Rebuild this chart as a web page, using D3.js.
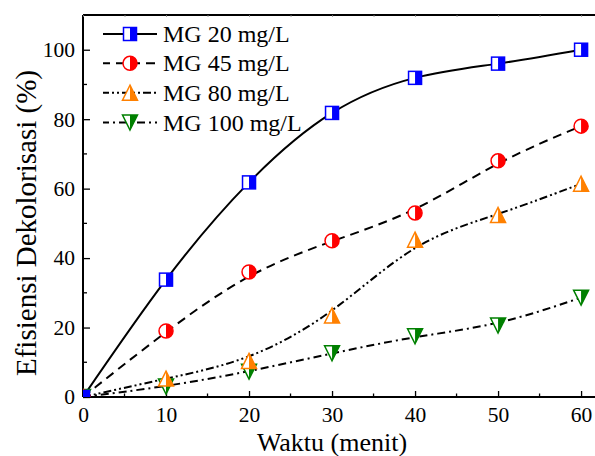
<!DOCTYPE html>
<html>
<head>
<meta charset="utf-8">
<script src="https://cdn.jsdelivr.net/npm/d3@7"></script>
<style>
  html, body { margin: 0; padding: 0; background: #fff; }
  svg { display: block; }
  svg text { font-family: "Liberation Serif", "Times New Roman", "DejaVu Serif", serif; }
</style>
</head>
<body>
<svg id="chart" width="595" height="456"></svg>
<script>
// Decolorisation efficiency of malachite green over contact time
const waktu = [0, 10, 20, 30, 40, 50, 60];
const mg20  = [0, 33.8, 61.8, 81.8, 91.9, 96.0, 100.0];
const mg45  = [0, 19.0, 36.0, 45.0, 53.0, 68.0, 78.0];
const mg80  = [0, 5.3, 10.4, 23.5, 45.3, 52.4, 61.4];
const mg100 = [0, 3.0, 7.3, 12.6, 17.5, 20.6, 28.6];
const seriesNames = ["MG 20 mg/L", "MG 45 mg/L", "MG 80 mg/L", "MG 100 mg/L"];
const xTicks = [0, 10, 20, 30, 40, 50, 60];
const yTicks = [0, 20, 40, 60, 80, 100];

const serif = "Liberation Serif, Times New Roman, DejaVu Serif, serif";
const svg = d3.select("#chart");
const plotLeft = 83, plotRight = 601, plotTop = 15, plotBottom = 397;

const x = d3.scaleLinear().domain([0, 62.4]).range([plotLeft, plotRight]);
const y = d3.scaleLinear().domain([0, 110]).range([plotBottom, plotTop]);

const styles = [
  { color: "#0000ff", shape: "square", dash: null,          curve: d3.curveNatural },
  { color: "#ff0000", shape: "circle", dash: "9,6",         curve: d3.curveBasis },
  { color: "#ff8000", shape: "up",     dash: "8,3,2,3,2,3", curve: d3.curveBasis },
  { color: "#008000", shape: "down",   dash: "8,4,2,4",     curve: d3.curveBasis }
];
const data = [mg20, mg45, mg80, mg100];

svg.append("defs").append("clipPath").attr("id", "plotClip")
  .append("rect").attr("x", plotLeft).attr("y", plotTop)
  .attr("width", plotRight - plotLeft).attr("height", plotBottom - plotTop);

// axes with inward ticks
const minorX = d3.range(5, 61, 10);
const minorY = d3.range(10, 110, 20);

const xAxis = d3.axisBottom(x).tickValues(xTicks).tickSize(-6).tickPadding(10).tickFormat(d3.format("d"));
const gx = svg.append("g").attr("transform", `translate(0,${plotBottom})`).call(xAxis);
gx.selectAll(".tick text").attr("y", 9.5);
gx.append("g").selectAll("line").data(minorX).join("line")
  .attr("x1", d => x(d)).attr("x2", d => x(d)).attr("y1", 0).attr("y2", -3.5)
  .attr("stroke", "#000").attr("stroke-width", 1.3);

const yAxis = d3.axisLeft(y).tickValues(yTicks).tickSize(-7).tickPadding(8).tickFormat(d3.format("d"));
const gy = svg.append("g").attr("transform", `translate(${plotLeft},0)`).call(yAxis);
gy.selectAll(".tick text").attr("x", -8);
gy.append("g").selectAll("line").data(minorY).join("line")
  .attr("x1", 0).attr("x2", 4).attr("y1", d => y(d)).attr("y2", d => y(d))
  .attr("stroke", "#000").attr("stroke-width", 1.3);

// top frame with small ticks
const xTop = d3.axisTop(x).tickValues(xTicks.concat(minorX)).tickSize(-2).tickFormat("");
const gt = svg.append("g").attr("transform", `translate(0,${plotTop})`).call(xTop);

[gx, gy, gt].forEach(g => g.attr("font-family", serif).attr("font-size", 21.5));
[gx, gy].forEach(g => {
  g.selectAll(".tick line").attr("stroke", "#000").attr("stroke-width", 1.3);
  g.selectAll(".tick text").attr("fill", "#000");
});
gt.selectAll(".tick line").attr("stroke", "#888").attr("stroke-width", 0.8);
[gx, gy, gt].forEach(g => g.select(".domain").attr("stroke", "#000").attr("stroke-width", 2));
gx.select(".domain").attr("d", `M${plotLeft},0H${plotRight}`);
gt.select(".domain").attr("d", `M${plotLeft},0H${plotRight}`);
gy.select(".domain").attr("d", `M0,${plotBottom}V${plotTop}`);

// curves
const plot = svg.append("g").attr("clip-path", "url(#plotClip)");

data.forEach((vals, k) => {
  const line = d3.line().x((d, i) => x(waktu[i])).y(d => y(d)).curve(styles[k].curve);
  plot.append("path").datum(vals)
    .attr("d", line)
    .attr("fill", "none").attr("stroke", "#000").attr("stroke-width", 2)
    .attr("stroke-dasharray", styles[k].dash);
});

// half-filled markers: left half white, right half coloured
function drawMarker(g, cx, cy, st) {
  const c = st.color;
  const m = g.append("g").attr("transform", `translate(${cx},${cy})`);
  if (st.shape === "square") {
    const s = 6.5;
    m.append("rect").attr("x", -s).attr("y", -s).attr("width", 2 * s).attr("height", 2 * s).attr("fill", "#fff");
    m.append("rect").attr("x", 0).attr("y", -s).attr("width", s).attr("height", 2 * s).attr("fill", c);
    m.append("rect").attr("x", -s).attr("y", -s).attr("width", 2 * s).attr("height", 2 * s)
      .attr("fill", "none").attr("stroke", c).attr("stroke-width", 1.5);
  } else if (st.shape === "circle") {
    const r = 7;
    m.append("circle").attr("r", r).attr("fill", "#fff");
    m.append("path").attr("d", `M0,${-r}A${r},${r} 0 0 1 0,${r}Z`).attr("fill", c);
    m.append("circle").attr("r", r).attr("fill", "none").attr("stroke", c).attr("stroke-width", 1.5);
  } else {
    const w = 7.5, h = 7.5, dir = st.shape === "up" ? 1 : -1;
    const apex = -dir * h, base = dir * h;
    m.append("path").attr("d", `M0,${apex}L${w},${base}L${-w},${base}Z`).attr("fill", "#fff");
    m.append("path").attr("d", `M0,${apex}L${w},${base}L0,${base}Z`).attr("fill", c);
    m.append("path").attr("d", `M0,${apex}L${w},${base}L${-w},${base}Z`)
      .attr("fill", "none").attr("stroke", c).attr("stroke-width", 1.5);
  }
}

// markers drawn back to front
[3, 2, 1, 0].forEach(k => {
  data[k].forEach((v, i) => drawMarker(plot, x(waktu[i]), y(v), styles[k]));
});

// legend
const legend = svg.append("g");
const rowY = [34, 63.3, 92.7, 122.5];
seriesNames.forEach((name, k) => {
  const ly = rowY[k];
  legend.append("line").attr("x1", 103).attr("x2", 157).attr("y1", ly).attr("y2", ly)
    .attr("stroke", "#000").attr("stroke-width", 2).attr("stroke-dasharray", styles[k].dash)
    .attr("stroke-dashoffset", k === 0 ? 0 : 2);
  drawMarker(legend, 130, ly, styles[k]);
  legend.append("text").attr("x", 163).attr("y", ly + 8)
    .attr("font-family", serif).attr("font-size", 24).attr("fill", "#000").text(name);
});

// axis titles
svg.append("text").attr("x", 332).attr("y", 451).attr("text-anchor", "middle")
  .attr("font-family", serif).attr("font-size", 26).attr("fill", "#000").text("Waktu (menit)");
svg.append("text").attr("transform", "translate(36,223) rotate(-90)").attr("text-anchor", "middle")
  .attr("font-family", serif).attr("font-size", 29).attr("fill", "#000").text("Efisiensi Dekolorisasi (%)");
</script>
</body>
</html>
